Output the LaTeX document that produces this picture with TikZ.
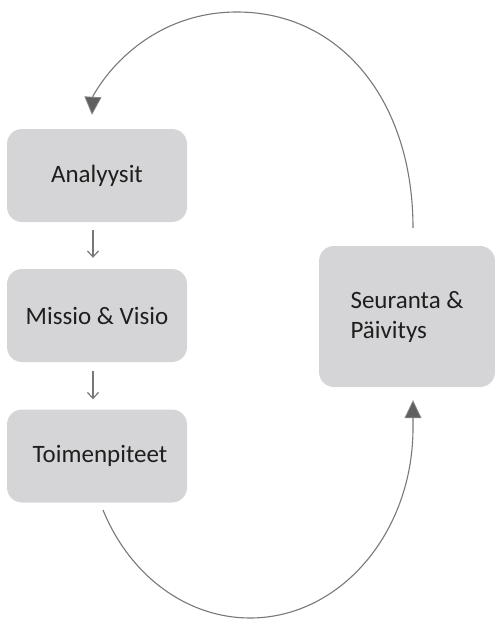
\documentclass[tikz,border=0pt]{standalone}
\usepackage{fontspec}
\setmainfont{Carlito}
\usetikzlibrary{arrows.meta}
\definecolor{boxgray}{RGB}{213,213,215}
\definecolor{linegray}{RGB}{120,120,120}
\definecolor{tipfill}{RGB}{95,95,97}
\definecolor{tipdraw}{RGB}{135,135,137}
\definecolor{textgray}{RGB}{30,30,30}
\begin{document}
\begin{tikzpicture}[x=1pt,y=-1pt,
  box/.style={fill=boxgray, rounded corners=15pt, minimum width=180pt,
    minimum height=93pt, inner sep=0pt, text=textgray,
    font=\fontsize{25}{30}\selectfont},
  smallarr/.style={draw=linegray, line width=1.2pt, -{Straight Barb[length=6pt,width=11pt]}},
  cyc/.style={draw=linegray, line width=1.1pt,
    -{Triangle[length=18pt,width=17pt,fill=tipfill,color=tipdraw,line width=0.8pt]}}
]
\useasboundingbox (0,0) rectangle (495,619);
\node[box] (a) at (97,175.5) {Analyysit};
\node[box] (m) at (97,315.5) {Missio \& Visio};
\node[box] (t) at (97,456) {\hspace*{6pt}Toimenpiteet};
\node[box, minimum width=176pt, minimum height=141pt, align=left] (s) at (407,316.5) {Seuranta \&\\Päivitys};

\coordinate (stop) at (413,228);
\coordinate (tbot) at (103,510);

\draw[smallarr] ([xshift=-4pt,yshift=-8pt]a.south) -- ([xshift=-4pt,yshift=11pt]m.north);
\draw[smallarr] ([xshift=-4pt,yshift=-9pt]m.south) -- ([xshift=-4pt,yshift=10pt]t.north);

\draw[cyc] (stop) .. controls (413,100) and (340,12) .. (237,12)
  .. controls (160,12) and (112,62) .. (93,96) -- ([xshift=-5pt,yshift=14pt]a.north);

\draw[cyc] (tbot) .. controls (130,576) and (187,618) .. (250,618)
  .. controls (340,618) and (413,533) .. (413,428) -- ([xshift=6pt,yshift=-13pt]s.south);
\end{tikzpicture}
\end{document}
